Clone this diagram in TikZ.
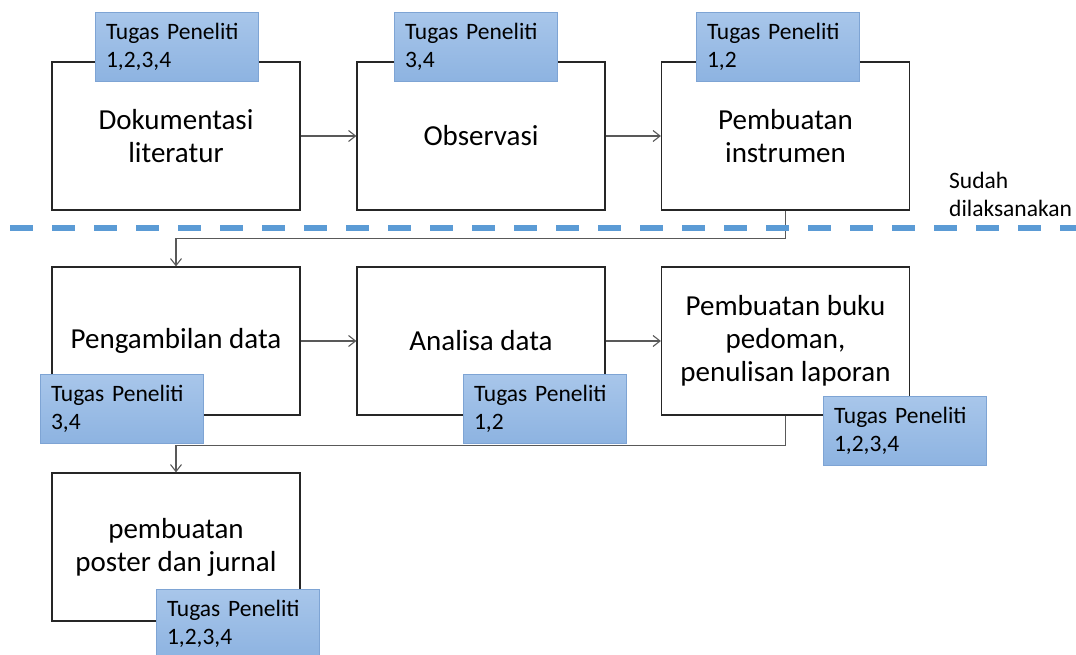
\documentclass[tikz,border=0pt]{standalone}
\usepackage{fontspec}
\setmainfont{Carlito}
\usetikzlibrary{arrows.meta, positioning, calc}
\definecolor{tagtop}{HTML}{A8C6EA}
\definecolor{tagbottom}{HTML}{8DB3E1}
\definecolor{tagedge}{HTML}{7EA4D4}
\definecolor{donedash}{HTML}{5B9BD5}
\definecolor{linkgray}{HTML}{595959}
\tikzset{
  taskbox/.style={draw=black!85, line width=1.2pt, fill=white,
                  minimum width=248pt, minimum height=148pt, inner sep=0pt,
                  align=center, font=\fontsize{29}{33}\selectfont},
  tagnote/.style={draw=tagedge, line width=1pt,
                  top color=tagtop, bottom color=tagbottom,
                  minimum height=69pt, text width=142pt, inner xsep=10.5pt,
                  inner ysep=0pt, align=left, anchor=north west,
                  font=\fontsize{23.5}{28}\selectfont},
  link/.style={draw=linkgray, line width=1.1pt,
               -{Straight Barb[length=7pt, width=11pt]}}
}

\begin{document}
\begin{tikzpicture}[x=1pt, y=-1pt]
  \useasboundingbox (0,0) rectangle (1076,655);
  %% Row 1 ─────────────────────────────────────────────────────
  \node[taskbox] (dok) at (176,136) {Dokumentasi\\literatur};
  \node[taskbox] (obs) at (481,136) {Observasi};
  \node[taskbox] (ins) at (785.5,136) {Pembuatan\\instrumen};
  %% Row 2 ─────────────────────────────────────────────────────
  \node[taskbox] (ambil) at (176,341) {Pengambilan data};
  \node[taskbox] (analisa) at (481,341) {Analisa data};
  \node[taskbox] (pedoman) at (785.5,341)
    {Pembuatan buku\\pedoman,\\penulisan laporan};
  %% Row 3 ─────────────────────────────────────────────────────
  \node[taskbox] (poster) at (176,547) {pembuatan\\poster dan jurnal};
  %% Connectors ────────────────────────────────────────────────
  \draw[link] (dok) -- (obs);
  \draw[link] (obs) -- (ins);
  \draw[link] (ambil) -- (analisa);
  \draw[link] (analisa) -- (pedoman);
  \draw[link] (ins.south) -- ++(0,28) -| (ambil.north);
  \draw[link] (pedoman.south) -- ++(0,30) -| (poster.north);
  %% Done line ─────────────────────────────────────────────────
  \draw[donedash, line width=6.5pt, dash pattern=on 23pt off 19pt]
    (10,228) -- (1076,228);
  \node[anchor=west, align=left, inner sep=0pt,
        font=\fontsize{23.5}{28}\selectfont]
    (sudah) at (949,194) {Sudah\\dilaksanakan};
  %% Task tags ─────────────────────────────────────────────────
  \node[tagnote] (tagdok) at (95,12) {Tugas Peneliti\\1,2,3,4};
  \node[tagnote] (tagobs) at (394,12) {Tugas Peneliti\\3,4};
  \node[tagnote] (tagins) at (696,12) {Tugas Peneliti\\1,2};
  \node[tagnote] (tagambil) at (40,374) {Tugas Peneliti\\3,4};
  \node[tagnote] (taganalisa) at (463,374) {Tugas Peneliti\\1,2};
  \node[tagnote] (tagpedoman) at (823,396) {Tugas Peneliti\\1,2,3,4};
  \node[tagnote] (tagposter) at (156,589) {Tugas Peneliti\\1,2,3,4};
\end{tikzpicture}
\end{document}
